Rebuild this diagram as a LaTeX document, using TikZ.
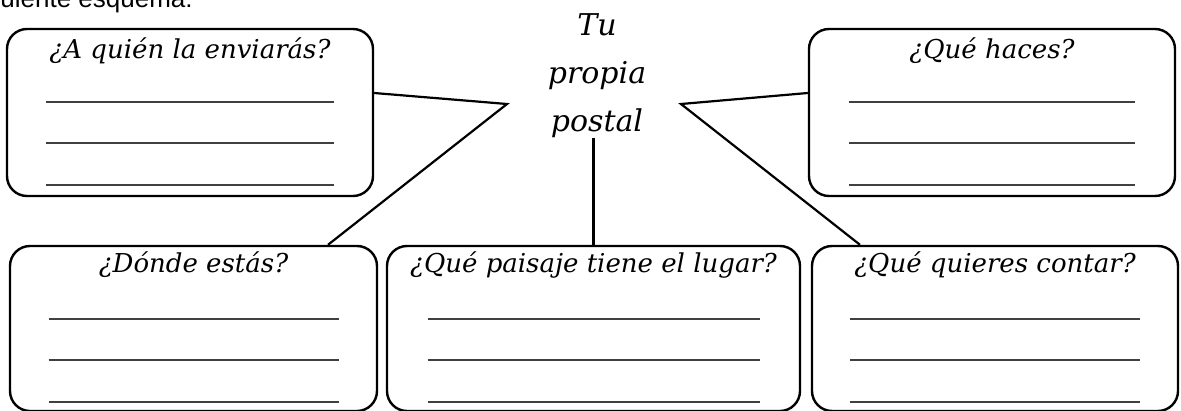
\documentclass[tikz,border=0pt]{standalone}
\usepackage{fontspec}
\newfontfamily\encabezadofont{Liberation Sans}
\newfontfamily\preguntafont{DejaVu Serif}
\usepackage{tikz}
\tikzset{
  caja/.style={draw, line width=2.4pt, rounded corners=20pt, minimum height=167pt, inner sep=0pt},
  pregunta/.style={font=\preguntafont\itshape\fontsize{26}{32}\selectfont, inner sep=0pt, anchor=base},
  renglon/.style={draw=black!75, line width=1.4pt},
  enlace/.style={line width=2.2pt}
}

\begin{document}
\begin{tikzpicture}[x=1pt, y=-1pt]
\useasboundingbox (0,0) rectangle (1181,410);
\node[anchor=base west, inner sep=0pt, font=\encabezadofont\fontsize{26}{30}\selectfont] (encabezado) at (-33,7) {siguiente esquema:};
\node[caja, minimum width=366pt] (quien) at (190,112.5) {};
\node[caja, minimum width=366pt] (haces) at (992,112.5) {};
\node[caja, minimum width=367pt, minimum height=165pt] (donde) at (193.5,328.5) {};
\node[caja, minimum width=413pt, minimum height=165pt] (paisaje) at (593.5,328.5) {};
\node[caja, minimum width=366pt, minimum height=165pt] (contar) at (995,328.5) {};
\node[pregunta] (tquien) at ([yshift=-31pt]quien.north) {¿A quién la enviarás?};
\node[pregunta] (thaces) at ([yshift=-31pt]haces.north) {¿Qué haces?};
\node[pregunta] (tdonde) at ([yshift=-28pt]donde.north) {¿Dónde estás?};
\node[pregunta] (tpaisaje) at ([yshift=-28pt]paisaje.north) {¿Qué paisaje tiene el lugar?};
\node[pregunta] (tcontar) at ([yshift=-28pt]contar.north) {¿Qué quieres contar?};
\node[pregunta, align=center, anchor=north, font=\preguntafont\itshape\fontsize{30}{48}\selectfont] (postal) at (597,13) {Tu\\propia\\postal};
\foreach \n/\w in {quien/144, haces/143, donde/145, paisaje/166, contar/145}
  \foreach \d in {74,115,157}
    \draw[renglon] ([shift={(-\w,\d)}]\n.north) -- ([shift={(\w,\d)}]\n.north);
\coordinate (puntaI) at (507,104);
\coordinate (puntaD) at (681,104);
\draw[enlace] ([yshift=19.5pt]quien.east) -- (puntaI) -- ([xshift=134.5pt]donde.north);
\draw[enlace] ([yshift=19.5pt]haces.west) -- (puntaD) -- ([xshift=-135pt]contar.north);
\draw[enlace] (paisaje.north) -- (paisaje.north |- postal.south);
\end{tikzpicture}
\end{document}
